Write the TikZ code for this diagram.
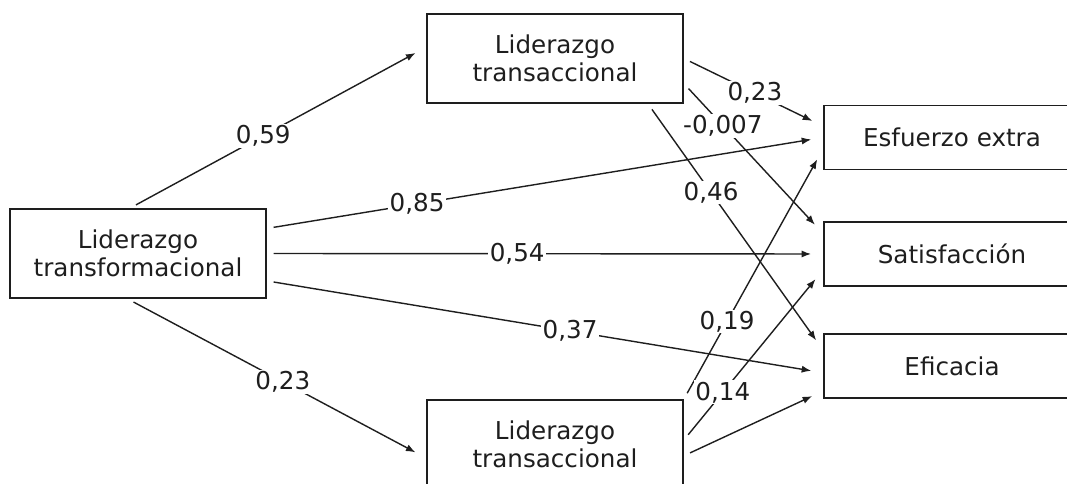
\documentclass[tikz,border=0pt]{standalone}
\usepackage{fontspec}
\setmainfont{DejaVu Sans}
\usetikzlibrary{arrows.meta}
\definecolor{darkline}{RGB}{30,30,30}

\begin{document}
\begin{tikzpicture}[x=0.025cm,y=-0.025cm,
    every node/.style={font=\fontsize{17.5}{20}\selectfont,text=darkline},
    box/.style={draw=darkline,line width=1.2pt,align=center,minimum width=6.4cm,minimum height=2.225cm},
    outbox/.style={box,minimum height=1.6cm},
    link/.style={draw=darkline,line width=1pt,-{Latex[length=2.4mm,width=1.8mm]},shorten <=0.17cm,shorten >=0.3cm},
    coef/.style={fill=white,inner sep=1pt}]
    \useasboundingbox (0,0) rectangle (1067,484);
    \clip (0,0) rectangle (1067,484);
    % boxes
    \node[box] (tf) at (138,253.5) {Liderazgo\\transformacional};
    \node[box] (tsup) at (555,58.5) {Liderazgo\\transaccional};
    \node[box] (tinf) at (555,444.5) {Liderazgo\\transaccional};
    \node[outbox] (esf) at (952,137.5) {Esfuerzo extra};
    \node[outbox] (sat) at (952,254) {Satisfacción};
    \node[outbox] (efi) at (952,366) {Eficacia};
    % from transformacional
    \draw[link] (tf.100) -- node[coef,pos=0.45]{0,59} (tsup.175);
    \draw[link] (tf.-103) -- node[coef,pos=0.52]{0,23} (tinf.186);
    \draw[link] (tf.11) -- node[coef,pos=0.27]{0,85} (esf.west);
    \draw[link] (tf.east) -- node[coef,pos=0.45]{0,54} (sat.west);
    \draw[link] (tf.-12.6) -- node[coef,pos=0.545]{0,37} (efi.183);
    % from upper transaccional
    \draw[link] (tsup.east) -- node[coef,pos=0.51]{0,23} (esf.175);
    \draw[link] (tsup.-11) -- node[coef,pos=0.28]{-0,007} (sat.171.6);
    \draw[link] (tsup.-26) -- node[coef,pos=0.36]{0,46} (efi.173);
    % from lower transaccional
    \draw[link] (tinf.north east) -- node[coef,pos=0.31]{0,19} (esf.185.6);
    \draw[link] (tinf.2) -- node[coef,pos=0.28]{0,14} (sat.187);
    \draw[link] (tinf.-5.6) -- (efi.191.5);
\end{tikzpicture}
\end{document}
